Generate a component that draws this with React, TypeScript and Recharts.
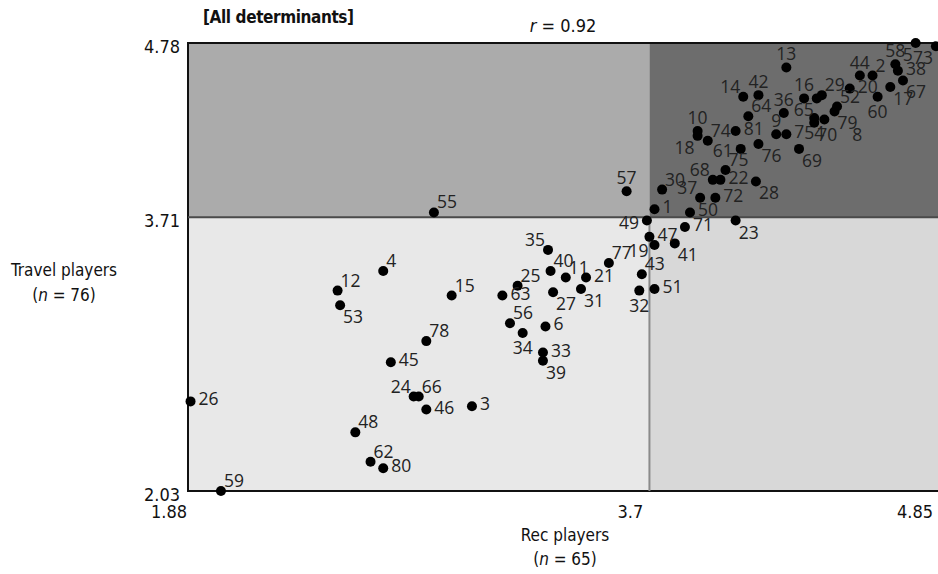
import { ScatterChart, Scatter, XAxis, YAxis, ReferenceArea, ReferenceLine } from "recharts"

// point numbers (players), with their mean scores on the two scales
const POINT_IDS = [
  1, 2, 3, 4, 5, 6, 7, 8, 9, 10, 11, 12, 13, 14, 15, 16, 17, 18, 19, 20,
  21, 22, 23, 24, 25, 26, 27, 28, 29, 30, 31, 32, 33, 34, 35, 36, 37, 38, 39, 40,
  41, 42, 43, 44, 45, 46, 47, 48, 49, 50, 51, 52, 53, 54, 55, 56, 57, 58, 59, 60,
  61, 62, 63, 64, 65, 66, 67, 68, 69, 70, 71, 72, 73, 74, 75, 76, 77, 78, 79, 80, 81,
]
const REC_SCORES = [
  3.72, 4.58, 3.0, 2.65, 4.75, 3.29, 4.24, 4.39, 4.2, 3.89, 3.37, 2.47, 4.24, 4.07, 2.92, 4.31, 4.65, 3.89, 3.72, 4.49,
  3.45, 3.98, 4.04, 2.77, 3.18, 1.89, 3.32, 4.12, 4.38, 3.75, 3.43, 3.66, 3.28, 3.2, 3.3, 4.23, 3.9, 4.68, 3.28, 3.31,
  3.8, 4.13, 3.67, 4.53, 2.68, 2.82, 3.7, 2.54, 3.69, 3.86, 3.72, 4.44, 2.48, 4.35, 2.85, 3.15, 3.61, 4.67, 2.01, 4.6,
  4.06, 2.6, 3.12, 4.09, 4.36, 2.79, 4.7, 3.95, 4.29, 4.35, 3.84, 3.96, 4.83, 3.93, 4.0, 4.13, 3.54, 2.82, 4.43, 2.65, 4.04,
]
const TRAVEL_SCORES = [
  3.76, 4.58, 2.55, 3.38, 4.78, 3.04, 4.22, 4.31, 4.22, 4.24, 3.34, 3.26, 4.63, 4.45, 3.23, 4.44, 4.51, 4.21, 3.54, 4.5,
  3.34, 3.94, 3.69, 2.61, 3.29, 2.58, 3.25, 3.93, 4.46, 3.88, 3.27, 3.26, 2.88, 3.0, 3.51, 4.35, 3.83, 4.61, 2.83, 3.38,
  3.55, 4.46, 3.36, 4.58, 2.82, 2.53, 3.59, 2.39, 3.69, 3.74, 3.27, 4.39, 3.17, 4.32, 3.74, 3.06, 3.87, 4.65, 2.03, 4.45,
  4.13, 2.21, 3.23, 4.33, 4.44, 2.61, 4.55, 3.94, 4.13, 4.29, 3.65, 3.83, 4.76, 4.18, 4.0, 4.16, 3.43, 2.95, 4.36, 2.17, 4.24,
]
// which side of the dot the number is written on
const LABEL_SIDES = [
  "e", "ne", "e", "ne", "sw", "e", "e", "far", "n", "n", "ne", "ne", "n", "nw", "ne", "n", "se", "sw", "wsw", "e",
  "e", "e", "se", "nw", "ne", "e", "se", "se", "ne", "ne", "se", "s", "e", "s", "nw", "n", "nw", "e", "se", "ne",
  "se", "n", "ne", "n", "e", "e", "e", "ne", "w", "e", "e", "ne", "se", "s", "ne", "ne", "n", "n", "ne", "s",
  "w", "ne", "e", "ne", "sw", "ne", "se", "nw", "se", "se", "e", "e", "sw", "ne", "ne", "se", "ne", "ne", "se", "e", "e",
]

const X_TICKS = [1.88, 3.7, 4.85]
const Y_TICKS = [2.03, 3.71, 4.78]
const X_CUT = 3.7
const Y_CUT = 3.71

const data = POINT_IDS.map((id, i) => ({
  id,
  rec: REC_SCORES[i],
  travel: TRAVEL_SCORES[i],
  side: LABEL_SIDES[i],
}))

const FONT = "'Liberation Sans Narrow', 'DejaVu Sans Condensed', Roboto, sans-serif"
const LABEL_FONT = "'Open Sans', 'Noto Sans', sans-serif"

// [dx, baseline dy, anchor]
const SIDE_OFFSETS: Record<string, [number, number, string]> = {
  n: [0, -7, "middle"],
  ne: [3, -4, "start"],
  e: [8, 4, "start"],
  se: [3, 18, "start"],
  far: [28, 21, "start"],
  s: [0, 21, "middle"],
  sw: [-3, 18, "end"],
  wsw: [-6, 12, "end"],
  w: [-8, 8, "end"],
  nw: [-3, -4, "end"],
}

const PointDot = (props: any) => {
  const { cx, cy, payload } = props
  const [dx, dy, anchor] = SIDE_OFFSETS[payload.side] || SIDE_OFFSETS.ne
  return (
    <g>
      <circle cx={cx} cy={cy} r={5} fill="#000" />
      <text x={cx + dx} y={cy + dy} textAnchor={anchor} fontSize={17.5} fontFamily={LABEL_FONT} fill="#222">
        {payload.id}
      </text>
    </g>
  )
}

const XTick = (props: any) => {
  const { x, y, payload } = props
  const shift = payload.value === X_TICKS[X_TICKS.length - 1] ? -26 : -19
  return (
    <text x={x + shift} y={y + 27} textAnchor="middle" fontSize={18} fontFamily={FONT} fill="#111">
      {payload.value}
    </text>
  )
}

const YTick = (props: any) => {
  const { x, y, payload } = props
  return (
    <text x={x - 8} y={y + 10} textAnchor="end" fontSize={18} fontFamily={FONT} fill="#111">
      {payload.value}
    </text>
  )
}

export default function App() {
  return (
    <div
      style={{
        position: "absolute",
        left: 0,
        top: 0,
        width: 938,
        height: 574,
        overflow: "hidden",
        background: "#fff",
        fontFamily: FONT,
        color: "#111",
      }}
    >
      <ScatterChart width={960} height={574} margin={{ top: 43, right: 19, bottom: 53, left: 128 }}>
        <XAxis
          type="number"
          dataKey="rec"
          domain={[1.88, 4.85]}
          ticks={X_TICKS}
          axisLine={false}
          tickLine={false}
          tickSize={0}
          tickMargin={0}
          height={30}
          tick={<XTick />}
        />
        <YAxis
          type="number"
          dataKey="travel"
          domain={[2.03, 4.78]}
          ticks={Y_TICKS}
          axisLine={false}
          tickLine={false}
          tickSize={0}
          tickMargin={0}
          width={60}
          tick={<YTick />}
        />
        <ReferenceArea x1={1.88} x2={X_CUT} y1={Y_CUT} y2={4.78} fill="#ababab" fillOpacity={1} />
        <ReferenceArea x1={X_CUT} x2={4.85} y1={Y_CUT} y2={4.78} fill="#6d6d6d" fillOpacity={1} />
        <ReferenceArea x1={1.88} x2={X_CUT} y1={2.03} y2={Y_CUT} fill="#e8e8e8" fillOpacity={1} />
        <ReferenceArea x1={X_CUT} x2={4.85} y1={2.03} y2={Y_CUT} fill="#d8d8d8" fillOpacity={1} />
        <ReferenceLine
          segment={[
            { x: X_CUT, y: 2.03 },
            { x: X_CUT, y: Y_CUT },
          ]}
          stroke="#8a8a8a"
          strokeWidth={2}
        />
        <ReferenceLine y={Y_CUT} stroke="#4a4a4a" strokeWidth={2} />
        <ReferenceArea
          x1={1.88}
          x2={4.85}
          y1={2.03}
          y2={4.78}
          fill="none"
          stroke="#111"
          strokeWidth={2}
        />
        <Scatter data={data} shape={<PointDot />} isAnimationActive={false} />
      </ScatterChart>

      <div style={{ position: "absolute", left: 203, top: 7, fontSize: 17, fontWeight: 700, letterSpacing: -0.4 }}>
        [All determinants]
      </div>
      <div style={{ position: "absolute", left: 463, width: 200, top: 15, fontSize: 18, textAlign: "center" }}>
        <i>r</i> = 0.92
      </div>
      <div style={{ position: "absolute", left: 0, width: 128, top: 260, fontSize: 17, textAlign: "center" }}>
        Travel players
      </div>
      <div style={{ position: "absolute", left: 0, width: 128, top: 285, fontSize: 17, textAlign: "center" }}>
        (<i>n</i> = 76)
      </div>
      <div style={{ position: "absolute", left: 465, width: 200, top: 525, fontSize: 17, textAlign: "center" }}>
        Rec players
      </div>
      <div style={{ position: "absolute", left: 465, width: 200, top: 549, fontSize: 17, textAlign: "center" }}>
        (<i>n</i> = 65)
      </div>
    </div>
  )
}
